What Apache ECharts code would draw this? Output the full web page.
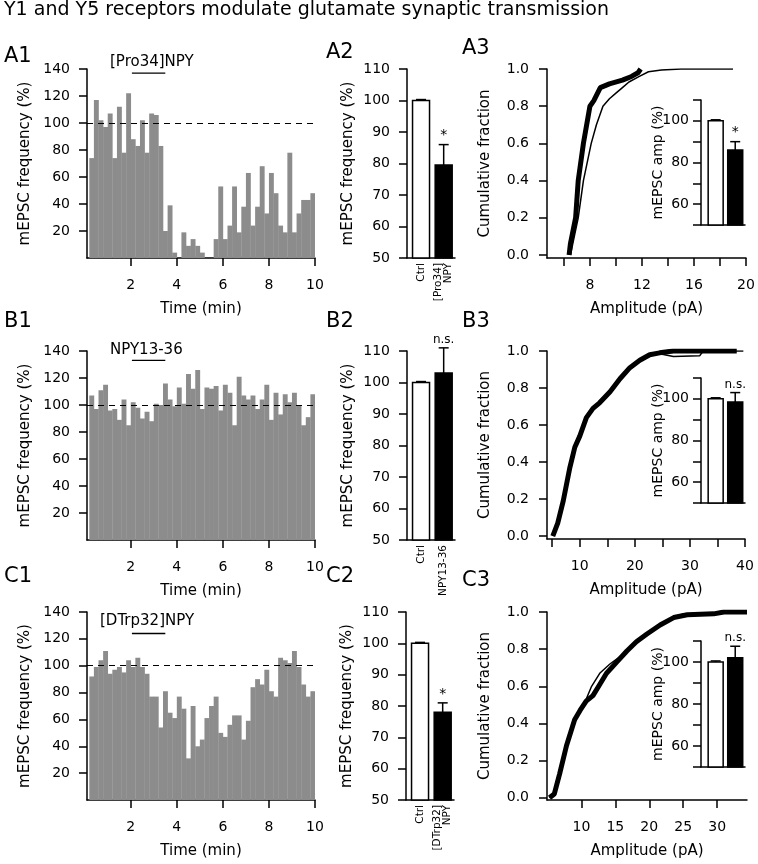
<!DOCTYPE html>
<html><head><meta charset="utf-8">
<script src="https://cdn.jsdelivr.net/npm/echarts@6/dist/echarts.min.js"></script>
<style>html,body{margin:0;padding:0;background:#fff}#c{width:758px;height:864px}</style>
</head><body><div id="c"></div>
<script>
// ---------------- DATA ----------------
const binStart = 0.2, binWidth = 0.2;           // histogram bins (min)
const drugPeriod = [2.05, 3.5];                  // application bar (min)
const freqA1 = [74,117,102,97,107,74,112,78,122,88,83,102,78,107,106,83,20,39,4,0,19,9,14,9,4,0,0,14,53,14,24,53,19,38,63,24,38,68,33,63,48,24,19,78,19,33,43,43,48];
const freqB1 = [107,97,111,115,96,97,89,104,85,102,98,90,95,88,101,100,116,104,99,113,101,123,112,126,97,113,112,114,96,115,109,85,121,107,104,107,97,104,115,89,109,93,108,102,109,100,85,91,108];
const freqC1 = [92,99,104,111,94,97,99,95,104,99,106,99,94,77,77,54,81,65,61,77,68,31,70,40,45,61,70,77,50,47,56,63,63,45,59,84,90,86,97,81,77,106,104,102,111,99,86,77,81];
const timeTicks = [2,4,6,8,10];
const freqTicks = [20,40,60,80,100,120,140];

const drugA = '[Pro34]NPY', drugB = 'NPY13-36', drugC = '[DTrp32]NPY';

const catsA2 = ['Ctrl','[Pro34]\nNPY'], meanA2 = [100,79.5], errA2 = [0.3,6.5], sigA2 = ['','*'];
const catsB2 = ['Ctrl','NPY13-36'],     meanB2 = [100,103],  errB2 = [0.3,8],   sigB2 = ['','n.s.'];
const catsC2 = ['Ctrl','[DTrp32]\nNPY'],meanC2 = [100,78],   errC2 = [0.3,3],   sigC2 = ['','*'];

const ampMeanA3 = [100,86],   ampErrA3 = [0.5,4],   ampSigA3 = ['','*'];
const ampMeanB3 = [100,98.5], ampErrB3 = [0.5,4.5], ampSigB3 = ['','n.s.'];
const ampMeanC3 = [100,102],  ampErrC3 = [0.5,5.5], ampSigC3 = ['','n.s.'];

const cumA3ctrl = [[6.5,0],[6.8,0.1],[7.1,0.2],[7.5,0.4],[8.1,0.6],[8.5,0.7],[9.0,0.8],[9.5,0.84],[10.0,0.87],[10.5,0.9],[11.0,0.93],[11.8,0.96],[12.5,0.985],[13.5,0.995],[15,1.0],[19,1.0]];
const cumA3drug = [[6.4,0],[6.5,0.06],[6.9,0.2],[7.1,0.4],[7.5,0.6],[8.0,0.8],[8.3,0.83],[8.8,0.9],[9.5,0.92],[10.5,0.94],[11.2,0.96],[11.7,0.98],[11.9,1.0]];
const cumB3ctrl = [[5.1,0],[6.0,0.07],[7.0,0.19],[8.2,0.37],[9.1,0.48],[10.0,0.54],[11.2,0.64],[12.4,0.69],[13.6,0.72],[15.5,0.78],[17.3,0.85],[19.1,0.91],[20.9,0.95],[22.7,0.975],[24.5,0.985],[27,0.97],[31.8,0.975],[32.4,1.0],[39.7,1.0]];
const cumB3drug = [[5.1,0],[6.0,0.07],[7.0,0.19],[8.2,0.37],[9.1,0.48],[10.0,0.54],[11.2,0.64],[12.4,0.69],[13.6,0.72],[15.5,0.78],[17.3,0.85],[19.1,0.91],[20.9,0.95],[22.7,0.98],[24.5,0.99],[27,1.0],[38.5,1.0]];
const cumC3ctrl = [[5.3,0],[6.0,0.02],[6.8,0.13],[7.8,0.28],[9.0,0.43],[10.0,0.49],[10.7,0.53],[11.5,0.6],[12.7,0.67],[14.2,0.72],[15.7,0.76],[17.5,0.82],[19.6,0.88],[21.6,0.93],[23,0.96],[25,0.99],[29.5,0.99],[31,1.0],[34.4,1.0]];
const cumC3drug = [[5.3,0],[6.0,0.02],[6.8,0.13],[7.8,0.28],[9.0,0.42],[9.8,0.47],[10.7,0.52],[11.7,0.55],[12.7,0.61],[13.7,0.67],[15.2,0.73],[16.7,0.79],[18.1,0.84],[19.6,0.88],[21.6,0.93],[23.6,0.97],[25.6,0.985],[29.5,0.99],[31,1.0],[34.4,1.0]];
const fracTicks = [0,0.2,0.4,0.6,0.8,1.0];

// ---------------- CHART ----------------
const F = 'DejaVu Sans';
const K = '#000';
const chart = echarts.init(document.getElementById('c'), null, {renderer:'canvas', width:758, height:864});

const grids = [
  {left:87, top:69, width:228, height:189},   // 0 A1
  {left:87, top:351, width:228, height:189},  // 1 B1
  {left:87, top:612, width:228, height:188},  // 2 C1
  {left:407, top:69, width:48, height:189},   // 3 A2
  {left:407, top:351, width:48, height:189},  // 4 B2
  {left:406, top:612, width:48, height:188},  // 5 C2
  {left:547, top:69, width:199, height:189},  // 6 A3
  {left:547, top:351, width:198, height:188}, // 7 B3
  {left:547, top:612, width:200, height:188}, // 8 C3
  {left:701, top:100, width:44, height:125},  // 9 A3 inset
  {left:701, top:378, width:44, height:125},  // 10 B3 inset
  {left:701, top:641, width:44, height:126}   // 11 C3 inset
];

const lineS = {color:K, width:1.5};
const NAME = {color:K, fontFamily:F, fontSize:15};
function ax(o) {
  return Object.assign({
    axisLine:{show:true, onZero:false, lineStyle:lineS},
    axisTick:{show:true, length:8, lineStyle:lineS},
    axisLabel:{color:K, fontFamily:F, fontSize:14, margin:17},
    splitLine:{show:false},
    nameLocation:'middle',
    nameMoveOverlap:false,
    nameTextStyle:NAME
  }, o);
}

const xAxes = [], yAxes = [];
// histograms
[0,1,2].forEach(g => {
  xAxes.push(ax({type:'value', gridIndex:g, min:0.1, max:10, name:'Time (min)', nameGap:44,
    axisTick:{show:true, length:8, lineStyle:lineS, customValues:timeTicks},
    axisLabel:{color:K, fontFamily:F, fontSize:14, margin:20, customValues:timeTicks}}));
  yAxes.push(ax({type:'value', gridIndex:g, min:0, max:140, name:'mEPSC frequency (%)', nameGap:54,
    axisTick:{show:true, length:8, lineStyle:lineS, customValues:freqTicks},
    axisLabel:{color:K, fontFamily:F, fontSize:14, margin:17, customValues:freqTicks}}));
});
// summary bars
[[3,catsA2],[4,catsB2],[5,catsC2]].forEach(([g,cats]) => {
  xAxes.push(ax({type:'value', gridIndex:g, min:-0.62, max:1.5,
    axisTick:{show:false},
    axisLabel:{color:K, fontFamily:F, fontSize:10.5, margin:5, rotate:90, lineHeight:10,
      customValues:[0,1], formatter:v => cats[Math.round(v)]}}));
  yAxes.push(ax({type:'value', gridIndex:g, min:50, max:110, interval:10, name:'mEPSC frequency (%)', nameGap:51}));
});
// cumulative
xAxes.push(ax({type:'value', gridIndex:6, min:4.7, max:20, name:'Amplitude (pA)', nameGap:44,
  axisTick:{show:true, length:8, lineStyle:lineS, customValues:[6,8,10,12,14,16,18,20]},
  axisLabel:{color:K, fontFamily:F, fontSize:14, margin:20, customValues:[8,12,16,20]}}));
xAxes.push(ax({type:'value', gridIndex:7, min:4.05, max:40, name:'Amplitude (pA)', nameGap:44,
  axisTick:{show:true, length:8, lineStyle:lineS, customValues:[5,10,15,20,25,30,35,40]},
  axisLabel:{color:K, fontFamily:F, fontSize:14, margin:20, customValues:[10,20,30,40]}}));
xAxes.push(ax({type:'value', gridIndex:8, min:4.93, max:34.4, name:'Amplitude (pA)', nameGap:44,
  axisTick:{show:true, length:8, lineStyle:lineS, customValues:[10,15,20,25,30]},
  axisLabel:{color:K, fontFamily:F, fontSize:14, margin:20, customValues:[10,15,20,25,30]}}));
[[6,-0.016],[7,-0.016],[8,-0.012]].forEach(([g,mn]) => {
  yAxes.push(ax({type:'value', gridIndex:g, min:mn, max:1, name:'Cumulative fraction', nameGap:54,
    axisTick:{show:true, length:8, lineStyle:lineS, customValues:fracTicks},
    axisLabel:{color:K, fontFamily:F, fontSize:14, margin:18, customValues:fracTicks, formatter:v => v.toFixed(1)}}));
});
// insets
[9,10,11].forEach(g => {
  xAxes.push(ax({type:'value', gridIndex:g, min:-0.75, max:1.5, axisTick:{show:false}, axisLabel:{show:false}}));
  yAxes.push(ax({type:'value', gridIndex:g, min:50, max:110, interval:10, name:'mEPSC amp (%)', nameGap:36,
    nameTextStyle:{color:K, fontFamily:F, fontSize:14},
    axisLabel:{color:K, fontFamily:F, fontSize:14, margin:12, formatter:v => (v===60||v===80||v===100)?String(v):''}}));
});

const series = [];
function histSeries(idx, vals) {
  series.push({
    type:'custom', xAxisIndex:idx, yAxisIndex:idx, clip:true,
    data: vals.map((v,i) => [binStart + i*binWidth, binStart + (i+1)*binWidth, v]),
    encode:{x:[0,1], y:2},
    renderItem:(p, api) => {
      const a = api.coord([api.value(0), api.value(2)]);
      const b = api.coord([api.value(1), 0]);
      return {type:'rect', shape:{x:a[0], y:a[1], width:b[0]-a[0]+0.3, height:b[1]-a[1]},
        style:{fill:'#8c8c8c'}};
    }
  });
}
histSeries(0, freqA1); histSeries(1, freqB1); histSeries(2, freqC1);

function drugSeries(idx, level) {
  series.push({
    type:'line', xAxisIndex:idx, yAxisIndex:idx, showSymbol:false, silent:true,
    data: drugPeriod.map(t => [t, level]),
    lineStyle:{color:K, width:1.3},
    markLine:{symbol:'none', silent:true, label:{show:false},
      lineStyle:{color:K, width:1, type:[6,5]}, data:[{yAxis:100}]}
  });
}
drugSeries(0, 137); drugSeries(1, 133); drugSeries(2, 124);

function barSeries(idx, means, errs, sigs, barW) {
  series.push({
    type:'custom', xAxisIndex:idx, yAxisIndex:idx, clip:false,
    data: means.map((m,i) => [i, m, errs[i]]),
    encode:{x:0, y:1},
    renderItem:(p, api) => {
      const i = p.dataIndex;
      const x = api.value(0), m = api.value(1), e = api.value(2);
      const top = api.coord([x, m]);
      const base = api.coord([x, 50]);
      const et = api.coord([x, m + e]);
      const cx = top[0];
      const ch = [
        {type:'rect', shape:{x:cx-barW/2, y:top[1], width:barW, height:base[1]-top[1]},
          style:{fill: i===0 ? '#fff' : '#000', stroke:K, lineWidth:1.5}},
        {type:'line', shape:{x1:cx, y1:top[1], x2:cx, y2:et[1]}, style:{stroke:K, lineWidth:1.5}},
        {type:'line', shape:{x1:cx-5, y1:et[1], x2:cx+5, y2:et[1]}, style:{stroke:K, lineWidth:1.5}}
      ];
      if (sigs[i]) ch.push({type:'text', style:{text:sigs[i], x:cx, y:et[1]-2, align:'center', verticalAlign:'bottom',
        fill:K, font: (sigs[i]==='*' ? '14px ' : '12px ') + F}});
      return {type:'group', children:ch};
    }
  });
}
barSeries(3, meanA2, errA2, sigA2, 17);
barSeries(4, meanB2, errB2, sigB2, 17);
barSeries(5, meanC2, errC2, sigC2, 17);
barSeries(9, ampMeanA3, ampErrA3, ampSigA3, 15);
barSeries(10, ampMeanB3, ampErrB3, ampSigB3, 15);
barSeries(11, ampMeanC3, ampErrC3, ampSigC3, 15);

function cumSeries(idx, d, w) {
  series.push({type:'line', xAxisIndex:idx, yAxisIndex:idx, showSymbol:false, silent:true,
    data:d, lineStyle:{color:K, width:w}, itemStyle:{color:K}});
}
cumSeries(6, cumA3drug, 5); cumSeries(6, cumA3ctrl, 1.5);
cumSeries(7, cumB3drug, 5); cumSeries(7, cumB3ctrl, 1.5);
cumSeries(8, cumC3drug, 5); cumSeries(8, cumC3ctrl, 1.5);

function txt(t, x, y, size) {
  return {type:'text', left:x, top:y, style:{text:t, fill:K, font: size + 'px ' + F}};
}
const graphic = [
  txt('Y1 and Y5 receptors modulate glutamate synaptic transmission', 4, 1, 19),
  txt('A1', 4, 46, 21), txt('A2', 326, 42, 21), txt('A3', 462, 38, 21),
  txt('B1', 4, 311, 21), txt('B2', 326, 311, 21), txt('B3', 462, 311, 21),
  txt('C1', 4, 566, 21), txt('C2', 326, 566, 21), txt('C3', 462, 570, 21),
  txt(drugA, 110, 55, 15), txt(drugB, 110, 343, 15), txt(drugC, 100, 614, 15)
];

chart.setOption({
  animation:false,
  backgroundColor:'#fff',
  grid:grids,
  xAxis:xAxes,
  yAxis:yAxes,
  series:series,
  graphic:graphic
});
</script></body></html>
